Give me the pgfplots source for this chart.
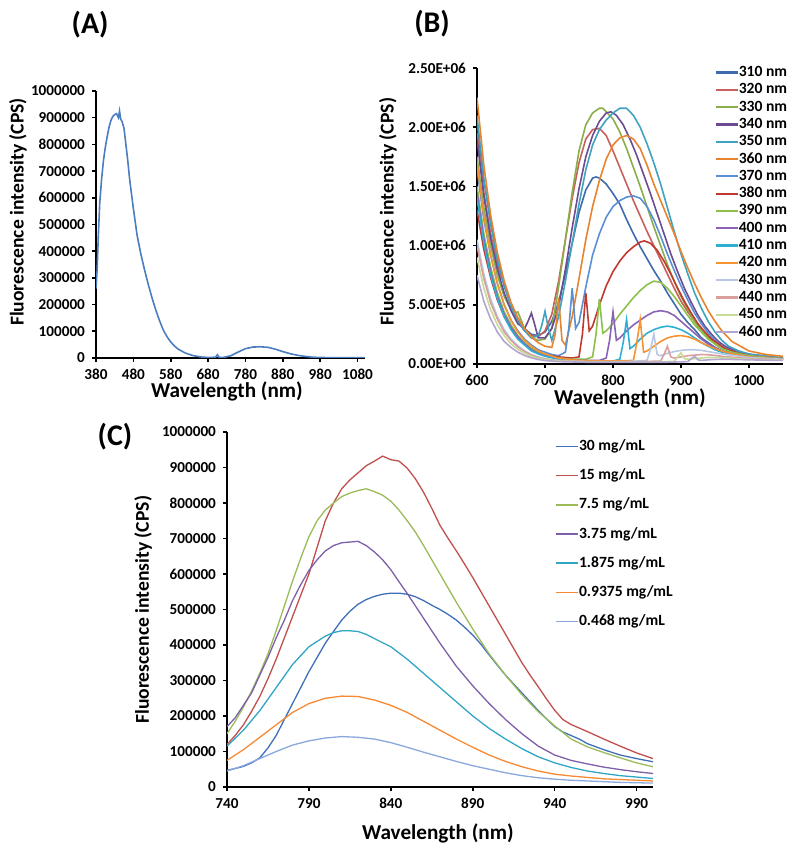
\documentclass[border=0pt]{standalone}
\usepackage{fontspec}
\setmainfont{Carlito}
\usepackage{pgfplots}
\pgfplotsset{compat=1.18}
\definecolor{ca}{HTML}{4A7EC0}
\definecolor{b310}{HTML}{3F6AAE}
\definecolor{b320}{HTML}{C8605C}
\definecolor{b330}{HTML}{8AAE4A}
\definecolor{b340}{HTML}{6B4C93}
\definecolor{b350}{HTML}{3FA3C0}
\definecolor{b360}{HTML}{E8842F}
\definecolor{b370}{HTML}{5B8FD3}
\definecolor{b380}{HTML}{C0392F}
\definecolor{b390}{HTML}{8CC04A}
\definecolor{b400}{HTML}{8A63B8}
\definecolor{b410}{HTML}{2FAFD4}
\definecolor{b420}{HTML}{F59331}
\definecolor{b430}{HTML}{B8C8E4}
\definecolor{b440}{HTML}{D9A09E}
\definecolor{b450}{HTML}{C6DC98}
\definecolor{b460}{HTML}{B4A4D0}
\definecolor{c30}{HTML}{3E6FB8}
\definecolor{c15}{HTML}{C0504D}
\definecolor{c75}{HTML}{9BBB59}
\definecolor{c375}{HTML}{7E5FA8}
\definecolor{c1875}{HTML}{31A5C4}
\definecolor{c09}{HTML}{F58A35}
\definecolor{c046}{HTML}{8AA8DC}
\pgfplotsset{
  panel/.style={
    scale only axis,
    axis x line=bottom, axis y line=left,
    axis line style={-, line width=0.9pt, black},
    tick align=outside, major tick length=2pt,
    tick style={line width=0.8pt, black},
    enlargelimits=false,
    /pgf/number format/assume math mode=true,
    /pgf/number format/fixed,
    /pgf/number format/1000 sep={},
    scaled ticks=false,
    tick label style={font=\bfseries\fontsize{7.6}{9}\selectfont},
    xlabel style={font=\bfseries\fontsize{10.6}{13}\selectfont},
    ylabel style={font=\bfseries\fontsize{9.8}{12}\selectfont},
    title style={font=\bfseries\fontsize{15}{17}\selectfont, anchor=center, yshift=-6pt},
    every axis plot/.append style={line width=0.8pt},
  },
}
\begin{document}
\begin{tikzpicture}
\path[use as bounding box] (0,0) rectangle (400pt,426pt);
% ---------------- Panel A
\begin{axis}[panel,
  at={(48pt,247pt)}, anchor=south west,
  width=134.5pt, height=133.5pt,
  xmin=380, xmax=1100, ymin=0, ymax=1000000,
  xtick={380,480,...,1080},
  ytick={0,100000,...,1000000},
  title={(A)}, title style={at={(axis description cs:-0.022,1.247)}},
  xlabel={Wavelength (nm)}, xlabel style={at={(axis description cs:0.487,-0.127)}, anchor=center},
  ylabel={Fluorescence intensity (CPS)}, ylabel style={at={(axis description cs:-0.29,0.547)}, anchor=center},
]
\addplot[ca] coordinates {
(380,260000)(383,330000)(386,450000)(390,580000)(395,670000)(400,740000)(405,790000)(410,830000)(415,865000)(420,890000)(425,905000)(430,912000)(435,915000)(440,900000)(443,925000)(446,895000)(450,885000)(455,860000)(460,800000)(465,740000)(470,670000)(480,560000)(490,460000)(500,390000)(510,330000)(520,275000)(530,225000)(540,180000)(550,140000)(560,105000)(570,80000)(580,60000)(590,45000)(600,33000)(620,18000)(640,9000)(660,4000)(680,2000)(700,3000)(705,12000)(710,2000)(720,2000)(740,8000)(760,22000)(780,35000)(800,41000)(820,42000)(840,40000)(860,33000)(880,24000)(900,16000)(920,10000)(940,6000)(960,3000)(980,2000)(1000,1500)(1050,1000)(1100,1000)};
\end{axis}
% ---------------- Panel B
\begin{axis}[panel,
  at={(238.5pt,244pt)}, anchor=south west,
  width=153pt, height=148pt,
  xmin=600, xmax=1050, ymin=0, ymax=2.5,
  xtick={600,700,...,1000},
  ytick={0,0.5,...,2.5},
  yticklabels={0.00E+00,5.00E+05,1.00E+06,1.50E+06,2.00E+06,2.50E+06},
  title={(B)}, title style={at={(axis description cs:-0.147,1.149)}},
  xlabel={Wavelength (nm)}, xlabel style={at={(axis description cs:0.5,-0.115)}, anchor=center},
  ylabel={Fluorescence intensity (CPS)}, ylabel style={at={(axis description cs:-0.291,0.514)}, anchor=center},
  legend style={draw=none, fill=none, at={(axis description cs:0.775,1.013)}, anchor=north west,
    font=\bfseries\fontsize{7.8}{9}\selectfont, row sep=0.65pt, inner sep=0pt,
    nodes={inner sep=0pt, text height=6pt, text depth=2pt}},
  legend cell align=left,
  legend image code/.code={\draw[#1, line width=1.1pt] (0pt,0pt) -- (11pt,0pt);},
]
\addplot[b310] coordinates {(600,2.05)(610,1.55)(620,1.22)(630,0.90)(640,0.66)(650,0.50)(660,0.38)(670,0.30)(680,0.25)(690,0.24)(700,0.27)(710,0.36)(720,0.52)(730,0.76)(740,1.02)(750,1.28)(760,1.47)(770,1.57)(775,1.58)(780,1.57)(790,1.52)(800,1.44)(810,1.35)(820,1.22)(830,1.10)(840,0.99)(850,0.89)(860,0.79)(870,0.70)(880,0.60)(890,0.51)(900,0.42)(910,0.35)(920,0.29)(930,0.22)(940,0.18)(950,0.14)(960,0.11)(980,0.08)(1000,0.06)(1050,0.04)};
\addlegendentry{310 nm}
\addplot[b320] coordinates {(600,1.95)(610,1.45)(620,1.10)(630,0.84)(635,0.74)(640,0.68)(645,0.58)(650,0.49)(660,0.36)(670,0.28)(680,0.24)(690,0.23)(700,0.28)(710,0.42)(720,0.70)(730,1.05)(740,1.40)(750,1.70)(760,1.90)(770,1.98)(780,1.99)(790,1.93)(800,1.80)(810,1.66)(820,1.52)(830,1.38)(840,1.25)(850,1.12)(860,1.00)(870,0.88)(880,0.76)(890,0.64)(900,0.53)(910,0.44)(920,0.36)(930,0.28)(940,0.22)(950,0.17)(960,0.13)(980,0.09)(1000,0.065)(1050,0.04)};
\addlegendentry{320 nm}
\addplot[b330] coordinates {(600,1.75)(610,1.32)(620,1.00)(630,0.75)(640,0.57)(650,0.46)(655,0.43)(660,0.44)(665,0.37)(670,0.29)(680,0.22)(690,0.20)(700,0.21)(710,0.30)(720,0.65)(730,1.05)(740,1.45)(750,1.80)(760,2.02)(770,2.12)(780,2.16)(785,2.16)(790,2.13)(800,2.07)(810,1.96)(820,1.82)(830,1.66)(840,1.50)(850,1.33)(860,1.16)(870,1.00)(880,0.84)(890,0.70)(900,0.57)(910,0.46)(920,0.36)(930,0.28)(940,0.22)(950,0.17)(960,0.13)(980,0.09)(1000,0.065)(1050,0.045)};
\addlegendentry{330 nm}
\addplot[b340] coordinates {(600,1.90)(610,1.42)(620,1.06)(630,0.80)(640,0.60)(650,0.45)(660,0.34)(670,0.30)(675,0.36)(680,0.43)(685,0.33)(690,0.22)(700,0.22)(710,0.30)(720,0.48)(730,0.80)(740,1.15)(750,1.48)(760,1.75)(770,1.93)(780,2.05)(790,2.12)(797,2.13)(805,2.10)(815,2.02)(825,1.90)(835,1.76)(845,1.60)(855,1.44)(865,1.27)(875,1.10)(885,0.93)(895,0.78)(905,0.64)(915,0.52)(925,0.41)(935,0.32)(945,0.25)(955,0.19)(965,0.15)(980,0.11)(1000,0.08)(1050,0.05)};
\addlegendentry{340 nm}
\addplot[b350] coordinates {(600,2.10)(610,1.57)(620,1.18)(630,0.88)(640,0.66)(650,0.49)(660,0.37)(670,0.28)(680,0.22)(690,0.24)(695,0.32)(700,0.445)(705,0.30)(710,0.20)(720,0.40)(730,0.70)(740,1.02)(750,1.35)(760,1.64)(770,1.85)(780,1.98)(790,2.06)(800,2.12)(810,2.16)(820,2.16)(830,2.10)(840,2.00)(850,1.86)(860,1.70)(870,1.52)(880,1.32)(890,1.12)(900,0.93)(910,0.76)(920,0.60)(930,0.47)(940,0.36)(950,0.27)(960,0.20)(970,0.15)(985,0.11)(1000,0.085)(1050,0.05)};
\addlegendentry{350 nm}
\addplot[b360] coordinates {(600,2.25)(610,1.68)(620,1.26)(630,0.94)(640,0.70)(650,0.52)(660,0.39)(670,0.30)(680,0.23)(690,0.18)(700,0.15)(710,0.14)(715,0.25)(720,0.56)(725,0.20)(730,0.16)(740,0.40)(750,0.72)(760,1.05)(770,1.33)(780,1.55)(790,1.73)(800,1.85)(810,1.91)(820,1.93)(830,1.90)(840,1.82)(850,1.68)(860,1.52)(870,1.38)(880,1.24)(890,1.10)(900,0.95)(910,0.81)(920,0.68)(930,0.56)(940,0.45)(950,0.36)(960,0.28)(975,0.19)(1000,0.11)(1025,0.08)(1050,0.065)};
\addlegendentry{360 nm}
\addplot[b370] coordinates {(600,1.65)(610,1.22)(620,0.92)(630,0.68)(640,0.50)(650,0.37)(660,0.28)(670,0.21)(680,0.16)(690,0.12)(700,0.10)(710,0.08)(720,0.07)(730,0.10)(735,0.30)(740,0.64)(745,0.30)(750,0.35)(760,0.65)(770,0.92)(780,1.10)(790,1.24)(800,1.33)(810,1.38)(820,1.41)(830,1.42)(840,1.40)(850,1.33)(860,1.22)(870,1.08)(880,0.93)(890,0.79)(900,0.66)(910,0.54)(920,0.43)(930,0.34)(940,0.26)(950,0.20)(960,0.15)(975,0.11)(1000,0.075)(1050,0.05)};
\addlegendentry{370 nm}
\addplot[b380] coordinates {(600,1.30)(610,0.97)(620,0.73)(630,0.54)(640,0.40)(650,0.30)(660,0.22)(670,0.17)(680,0.13)(690,0.10)(700,0.08)(720,0.06)(740,0.05)(750,0.06)(755,0.25)(760,0.60)(765,0.28)(770,0.32)(780,0.50)(790,0.66)(800,0.78)(810,0.87)(820,0.94)(830,0.99)(840,1.03)(846,1.04)(855,1.02)(865,0.96)(875,0.87)(885,0.76)(895,0.64)(905,0.53)(915,0.43)(925,0.34)(935,0.27)(945,0.21)(955,0.17)(965,0.13)(980,0.10)(1000,0.07)(1050,0.045)};
\addlegendentry{380 nm}
\addplot[b390] coordinates {(600,1.50)(610,1.10)(620,0.82)(630,0.60)(640,0.44)(650,0.33)(660,0.24)(670,0.18)(680,0.13)(690,0.10)(700,0.08)(720,0.05)(740,0.04)(760,0.04)(770,0.06)(775,0.25)(780,0.55)(785,0.26)(790,0.28)(800,0.34)(810,0.42)(820,0.49)(830,0.56)(840,0.62)(850,0.67)(860,0.70)(870,0.69)(880,0.64)(890,0.57)(900,0.49)(910,0.41)(920,0.33)(930,0.27)(940,0.21)(950,0.17)(960,0.13)(975,0.10)(1000,0.07)(1050,0.045)};
\addlegendentry{390 nm}
\addplot[b400] coordinates {(600,1.45)(610,1.06)(620,0.78)(630,0.57)(640,0.42)(650,0.31)(660,0.23)(670,0.17)(680,0.12)(690,0.09)(700,0.07)(720,0.045)(740,0.035)(760,0.03)(780,0.03)(790,0.05)(795,0.20)(800,0.44)(805,0.20)(810,0.22)(820,0.28)(830,0.33)(840,0.37)(850,0.41)(860,0.44)(870,0.45)(880,0.44)(890,0.41)(900,0.36)(910,0.31)(920,0.26)(930,0.21)(940,0.17)(950,0.14)(960,0.11)(980,0.08)(1000,0.06)(1050,0.04)};
\addlegendentry{400 nm}
\addplot[b410] coordinates {(600,1.40)(610,1.02)(620,0.75)(630,0.55)(640,0.40)(650,0.29)(660,0.21)(670,0.16)(680,0.11)(690,0.085)(700,0.065)(720,0.04)(740,0.03)(760,0.025)(800,0.025)(810,0.04)(815,0.18)(820,0.375)(825,0.13)(830,0.15)(840,0.21)(850,0.26)(860,0.29)(870,0.31)(880,0.32)(890,0.31)(900,0.29)(910,0.26)(920,0.22)(930,0.18)(940,0.15)(950,0.12)(960,0.10)(980,0.075)(1000,0.055)(1050,0.04)};
\addlegendentry{410 nm}
\addplot[b420] coordinates {(600,1.70)(610,1.25)(620,0.92)(630,0.68)(640,0.50)(650,0.37)(660,0.27)(670,0.20)(680,0.15)(690,0.11)(700,0.085)(720,0.05)(740,0.035)(760,0.028)(800,0.025)(830,0.03)(835,0.18)(840,0.375)(845,0.10)(850,0.11)(860,0.15)(870,0.19)(880,0.22)(890,0.235)(900,0.24)(910,0.23)(920,0.21)(930,0.18)(940,0.155)(950,0.13)(960,0.11)(980,0.08)(1000,0.06)(1050,0.04)};
\addlegendentry{420 nm}
\addplot[b430] coordinates {(600,1.05)(610,0.76)(620,0.55)(630,0.40)(640,0.29)(650,0.21)(660,0.155)(670,0.11)(680,0.08)(690,0.06)(700,0.045)(720,0.03)(760,0.02)(820,0.02)(850,0.03)(855,0.12)(860,0.25)(865,0.08)(870,0.07)(880,0.09)(890,0.105)(900,0.115)(910,0.12)(920,0.12)(930,0.115)(940,0.105)(950,0.095)(960,0.085)(980,0.07)(1000,0.055)(1050,0.04)};
\addlegendentry{430 nm}
\addplot[b440] coordinates {(600,1.00)(610,0.72)(620,0.52)(630,0.38)(640,0.27)(650,0.20)(660,0.145)(670,0.105)(680,0.075)(690,0.055)(700,0.04)(720,0.028)(760,0.02)(840,0.02)(870,0.025)(875,0.08)(880,0.15)(885,0.06)(890,0.05)(900,0.06)(910,0.07)(920,0.075)(930,0.08)(940,0.078)(950,0.072)(960,0.065)(980,0.055)(1000,0.045)(1050,0.035)};
\addlegendentry{440 nm}
\addplot[b450] coordinates {(600,0.90)(610,0.64)(620,0.46)(630,0.33)(640,0.24)(650,0.17)(660,0.125)(670,0.09)(680,0.065)(690,0.048)(700,0.036)(720,0.025)(760,0.018)(860,0.018)(890,0.022)(895,0.06)(900,0.095)(905,0.045)(910,0.04)(920,0.045)(930,0.05)(940,0.055)(950,0.055)(960,0.052)(980,0.047)(1000,0.04)(1050,0.032)};
\addlegendentry{450 nm}
\addplot[b460] coordinates {(600,0.75)(610,0.53)(620,0.38)(630,0.27)(640,0.19)(650,0.14)(660,0.10)(670,0.072)(680,0.052)(690,0.038)(700,0.029)(720,0.02)(760,0.015)(880,0.015)(910,0.02)(915,0.045)(920,0.065)(925,0.035)(930,0.03)(940,0.035)(950,0.038)(960,0.04)(980,0.038)(1000,0.035)(1050,0.03)};
\addlegendentry{460 nm}
\end{axis}
% ---------------- Panel C
\begin{axis}[panel,
  at={(113.5pt,32.5pt)}, anchor=south west,
  width=213pt, height=177.5pt,
  xmin=740, xmax=1000, ymin=0, ymax=1000000,
  xtick={740,790,...,990},
  ytick={0,100000,...,1000000},
  every axis plot/.append style={line width=0.65pt},
  title={(C)}, title style={at={(axis description cs:-0.263,0.986)}},
  xlabel={Wavelength (nm)}, xlabel style={at={(axis description cs:0.495,-0.13)}, anchor=center},
  ylabel={Fluorescence intensity (CPS)}, ylabel style={at={(axis description cs:-0.197,0.499)}, anchor=center},
  legend style={draw=none, fill=none, at={(axis description cs:0.77,0.983)}, anchor=north west,
    font=\bfseries\fontsize{7.8}{9}\selectfont, row sep=6.6pt, inner sep=0pt,
    nodes={inner sep=0pt, text height=6pt, text depth=2pt}},
  legend cell align=left,
  legend image code/.code={\draw[#1, line width=0.8pt] (0pt,0pt) -- (11pt,0pt);},
]
\addplot[c30] coordinates {(740,47000)(745,52000)(750,58000)(755,68000)(760,82000)(765,110000)(770,145000)(775,190000)(780,235000)(785,280000)(790,325000)(795,365000)(800,405000)(805,438000)(810,470000)(815,495000)(820,515000)(825,528000)(830,537000)(835,543000)(840,546000)(845,546000)(850,543000)(855,536000)(860,525000)(865,512000)(870,500000)(875,486000)(880,470000)(885,450000)(890,428000)(895,402000)(900,372000)(905,343000)(910,315000)(915,290000)(920,265000)(925,240000)(930,215000)(935,192000)(940,170000)(945,155000)(950,145000)(955,135000)(960,122000)(970,105000)(980,90000)(990,80000)(1000,71000)};
\addlegendentry{30 mg/mL}
\addplot[c15] coordinates {(740,120000)(745,145000)(750,175000)(755,213000)(760,255000)(765,305000)(770,360000)(775,420000)(780,480000)(785,540000)(790,600000)(795,675000)(800,750000)(805,800000)(810,840000)(815,865000)(820,885000)(825,905000)(830,918000)(835,932000)(840,922000)(845,918000)(850,898000)(855,868000)(860,830000)(865,785000)(870,737000)(875,700000)(880,665000)(885,628000)(890,590000)(895,550000)(900,510000)(905,470000)(910,430000)(915,390000)(920,350000)(925,315000)(930,282000)(935,248000)(940,216000)(945,190000)(950,176000)(955,166000)(960,156000)(970,135000)(980,115000)(990,96000)(1000,80000)};
\addlegendentry{15 mg/mL}
\addplot[c75] coordinates {(740,150000)(745,185000)(750,225000)(755,270000)(760,320000)(765,375000)(770,440000)(775,510000)(780,580000)(785,645000)(790,705000)(795,750000)(800,780000)(805,800000)(810,818000)(815,828000)(820,835000)(825,840000)(830,832000)(835,822000)(840,805000)(845,780000)(850,750000)(855,718000)(860,680000)(870,600000)(880,520000)(890,445000)(900,375000)(910,315000)(920,260000)(930,212000)(940,172000)(950,135000)(960,113000)(970,97000)(980,82000)(990,68000)(1000,57000)};
\addlegendentry{7.5 mg/mL}
\addplot[c375] coordinates {(740,170000)(745,195000)(750,230000)(755,265000)(760,315000)(765,365000)(770,420000)(775,470000)(780,525000)(785,570000)(790,610000)(795,640000)(800,665000)(805,680000)(810,688000)(815,690000)(820,692000)(825,680000)(830,662000)(835,640000)(840,612000)(845,578000)(850,545000)(855,510000)(860,475000)(870,405000)(880,340000)(890,285000)(900,235000)(910,190000)(920,150000)(930,115000)(940,90000)(950,75000)(960,65000)(970,56000)(980,49000)(990,43000)(1000,38000)};
\addlegendentry{3.75 mg/mL}
\addplot[c1875] coordinates {(740,115000)(750,160000)(760,215000)(770,280000)(780,345000)(790,395000)(800,425000)(805,435000)(810,440000)(815,440000)(820,438000)(825,430000)(830,418000)(840,395000)(850,360000)(860,320000)(870,280000)(880,240000)(890,200000)(900,165000)(910,135000)(920,108000)(930,85000)(940,68000)(950,55000)(960,45000)(970,38000)(980,32000)(990,28000)(1000,24000)};
\addlegendentry{1.875 mg/mL}
\addplot[c09] coordinates {(740,75000)(750,105000)(760,140000)(770,175000)(780,210000)(790,235000)(800,250000)(810,256000)(820,255000)(830,245000)(840,230000)(850,210000)(860,185000)(870,160000)(880,135000)(890,112000)(900,90000)(910,72000)(920,57000)(930,45000)(940,36000)(950,31000)(960,27000)(970,23000)(980,21000)(990,19000)(1000,17000)};
\addlegendentry{0.9375 mg/mL}
\addplot[c046] coordinates {(740,45000)(750,60000)(760,80000)(770,100000)(780,118000)(790,130000)(800,138000)(810,142000)(820,140000)(830,135000)(840,125000)(850,112000)(860,98000)(870,85000)(880,72000)(890,60000)(900,50000)(910,40000)(920,32000)(930,26000)(940,22000)(950,19000)(960,17000)(970,15000)(980,13000)(990,12000)(1000,11000)};
\addlegendentry{0.468 mg/mL}
\end{axis}
\end{tikzpicture}
\end{document}
